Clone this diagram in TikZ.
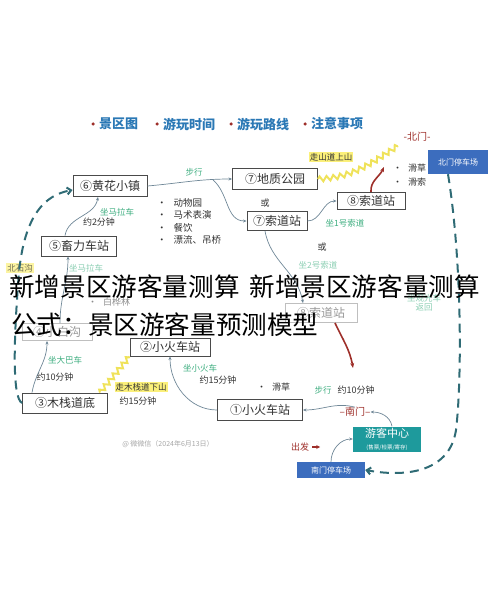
\documentclass[tikz,border=0pt]{standalone}
\usepackage{fontspec}
\setmainfont{Noto Sans CJK SC}
\usepackage{tikz}
\usetikzlibrary{arrows.meta, decorations.pathmorphing}

\definecolor{txt}{HTML}{333333}
\definecolor{boxline}{HTML}{4A4A4A}
\definecolor{headblue}{HTML}{2A78B5}
\definecolor{darkred}{HTML}{9E2F2A}
\definecolor{notegreen}{HTML}{3FAE80}
\definecolor{linkgray}{HTML}{6F8797}
\definecolor{routeteal}{HTML}{2F6B75}
\definecolor{zigyellow}{HTML}{EFE25A}
\definecolor{hlyellow}{HTML}{FBF07A}
\definecolor{parkblue}{HTML}{3C6DBE}
\definecolor{centreteal}{HTML}{1E9A9C}

\begin{document}
\begin{tikzpicture}[x=1pt, y=-1pt,
    every node/.style = {inner sep=0pt, text=txt, font=\fontsize{9}{10}\selectfont},
    box/.style = {draw=boxline, fill=white, line width=0.9pt, minimum height=19pt,
                  font=\fontsize{12}{12}\selectfont},
    faded/.style = {box, draw=black!25, text=black!40},
    park/.style = {fill=parkblue, text=white, font=\fontsize{8}{8}\selectfont},
    head/.style = {text=headblue, font=\fontsize{13}{13}\selectfont\bfseries},
    hdot/.style = {circle, fill=darkred, minimum size=3.5pt},
    note/.style = {text=notegreen, font=\fontsize{8.5}{9}\selectfont},
    gate/.style = {text=darkred, font=\fontsize{10}{10}\selectfont},
    hl/.style = {fill=hlyellow, inner sep=1pt, font=\fontsize{8.5}{9}\selectfont},
    link/.style = {draw=linkgray, line width=0.7pt, -{Stealth[length=3.5pt, width=3pt]}},
    route/.style = {draw=routeteal, line width=2pt, dash pattern=on 9pt off 6pt,
                    -{Straight Barb[length=4pt, width=7pt]}},
    zig/.style = {draw=zigyellow, line width=2pt, decorate,
                  decoration={zigzag, segment length=7pt, amplitude=2.5pt}},
    redline/.style = {draw=darkred, line width=1.6pt, -{Stealth[length=5pt, width=4pt]}},
    bigtext/.style = {anchor=west, text=black, font=\fontsize{25.6}{26}\selectfont}]

    \useasboundingbox (0,0) rectangle (490,596);

    \node[hdot] (d1) at (93,124) {};
    \node[head, anchor=west] (h1) at (99,124) {景区图};
    \node[hdot] (d2) at (157,124) {};
    \node[head, anchor=west] (h2) at (163,124) {游玩时间};
    \node[hdot] (d3) at (231,124) {};
    \node[head, anchor=west] (h3) at (237,124) {游玩路线};
    \node[hdot] (d4) at (305,124) {};
    \node[head, anchor=west] (h4) at (311,124) {注意事项};

    \node[box, minimum width=74pt, minimum height=21pt] (huang) at (110,186) {⑥黄花小镇};
    \node[box, minimum width=85pt, minimum height=21pt] (dizhi) at (275,179) {⑦地质公园};
    \node[box, minimum width=60pt] (suo7) at (277,221) {⑦索道站};
    \node[box, minimum width=68pt, minimum height=17pt] (suo8) at (371,201) {⑧索道站};
    \node[box, minimum width=75pt, minimum height=20pt] (chuli) at (79,246) {⑤畜力车站};
    \node[faded, minimum width=70pt, minimum height=17pt] (baigou) at (57,332) {④小白沟};
    \node[faded, minimum width=72pt] (suo8b) at (321,313) {⑧索道站};
    \node[box, minimum width=80pt, minimum height=18pt] (huo2) at (170,347) {②小火车站};
    \node[box, minimum width=85pt, minimum height=20pt] (muzhan) at (65,403) {③木栈道底};
    \node[box, minimum width=85pt, minimum height=21pt] (huo1) at (260,410) {①小火车站};

    \node[park, minimum width=60pt, minimum height=24pt] (beipark) at (458,162) {北门停车场};
    \node[park, minimum width=68pt, minimum height=16pt] (nanpark) at (331,470) {南门停车场};
    \node[fill=centreteal, minimum width=68pt, minimum height=25pt, align=center,
          text=white, font=\fontsize{11}{11}\selectfont] (youke) at (387,439)
          {游客中心\\[1pt]{\fontsize{5.5}{6}\selectfont (售票/检票/寄存)}};

    \node[gate] (beimen) at (417,137) {-北门-};
    \node[gate] (nanmen) at (355,412) {--南门--};
    \node[gate, font=\fontsize{9}{9}\selectfont] (chufa) at (300,447) {出发};
    \coordinate (north) at (398,146);
    \coordinate (fork) at (213,180);
    \coordinate (uphill) at (384,167);
    \coordinate (down) at (353,368);

    \node[anchor=west] (p1) at (393,168) {•\hspace{6pt}滑草};
    \node[anchor=west] (p2) at (393,182) {•\hspace{6pt}滑索};
    \node[anchor=west, font=\fontsize{9.5}{10}\selectfont] (a1) at (157,203) {•\hspace{7pt}动物园};
    \node[anchor=west, font=\fontsize{9.5}{10}\selectfont] (a2) at (157,215) {•\hspace{7pt}马术表演};
    \node[anchor=west, font=\fontsize{9.5}{10}\selectfont] (a3) at (157,228) {•\hspace{7pt}餐饮};
    \node[anchor=west, font=\fontsize{9.5}{10}\selectfont] (a4) at (157,240) {•\hspace{7pt}漂流、吊桥};
    \node[anchor=west, text=black!45] (b1) at (88,302) {•\hspace{6pt}白桦林};
    \node[anchor=west] (g1) at (257,387) {•\hspace{6pt}滑草};

    \node[note] (n1) at (194,172) {步行};
    \node (or1) at (265,203) {或};
    \node (or2) at (322,247) {或};
    \node[note] (n2) at (345,223) {坐1号索道};
    \node[note, opacity=0.6] (n3) at (318,265) {坐2号索道};
    \node[note, opacity=0.6, align=center] (n4) at (424,303) {坐观光车\\返回};
    \node[hl] (l1) at (331,157) {走山道上山};
    \node[note] (n5) at (117,212) {坐马拉车};
    \node (t1) at (99,222) {约2分钟};
    \node[hl, opacity=0.7] (l2) at (20,268) {北石沟};
    \node[note, opacity=0.6] (n6) at (86,268) {坐马拉车};
    \node[note] (n7) at (65,360) {坐大巴车};
    \node (t2) at (55,377) {约10分钟};
    \node[hl] (l3) at (141,387) {走木栈道下山};
    \node (t3) at (138,401) {约15分钟};
    \node[note] (n8) at (200,368) {坐小火车};
    \node (t4) at (218,380) {约15分钟};
    \node[note] (n9) at (323,390) {步行};
    \node (t5) at (356,390) {约10分钟};
    \node[text=black!35, font=\fontsize{7}{7}\selectfont] (mark) at (168,444)
          {@ 微微信（2024年6月13日）};

    \draw[link] (huang.east) to[out=5, in=180] (dizhi.west);
    \draw[link] (fork) to[out=-40, in=180] (suo7.west);
    \draw[link] (suo7.east) to[out=0, in=180] (suo8.west);
    \draw[link] ([xshift=-12pt]suo7.south) to[out=-80, in=100] ([xshift=-18pt]suo8b.north);
    \draw[link] ([xshift=-14pt]chuli.north) to[out=80, in=-100] ([xshift=-12pt]huang.south);
    \draw[link] ([xshift=3pt]baigou.north) to[out=90, in=-90] ([xshift=-11pt]chuli.south);
    \draw[link] ([xshift=-33pt]muzhan.north) to[out=80, in=-90] ([xshift=-10pt]baigou.south);
    \draw[link] (huo1.west) to[out=180, in=-90] (huo2.south);
    \draw[link] (nanmen.north) to[out=165, in=0] (huo1.east);
    \draw[link] ([xshift=5pt]youke.north) to[out=100, in=0] (nanmen.east);
    \draw[link] (nanpark.north) to[out=90, in=180] (youke.west);

    \draw[zig] (dizhi.east) .. controls (355,178) and (375,160) .. (north);
    \draw[zig] ([xshift=35pt]muzhan.north) .. controls (112,378) and (125,362) .. (huo2.south west);

    \draw[redline] (suo8.north) to[out=95, in=-115] (uphill);
    \draw[redline] ([xshift=14pt]suo8b.south) to[out=-65, in=100] (down);
    \draw[darkred, line width=1.5pt, -{Stealth[length=4pt, width=4pt]}] (chufa.east) ++(3pt,0) -- ++(8pt,0);

    \draw[route] ([xshift=-10pt]beipark.south) .. controls (462,260) and (462,380) .. (456,430)
                 .. controls (450,470) and (410,478) .. (nanpark.east);
    \draw[route] (muzhan.west) .. controls (12,398) and (14,340) .. (18,285)
                 .. controls (22,215) and (45,195) .. ([yshift=-4pt]huang.west);

    \node[bigtext] (title1) at (9,287) {新增景区游客量测算\hspace{10pt}新增景区游客量测算};
    \node[bigtext] (title2) at (11,325) {公式：景区游客量预测模型};
\end{tikzpicture}
\end{document}
